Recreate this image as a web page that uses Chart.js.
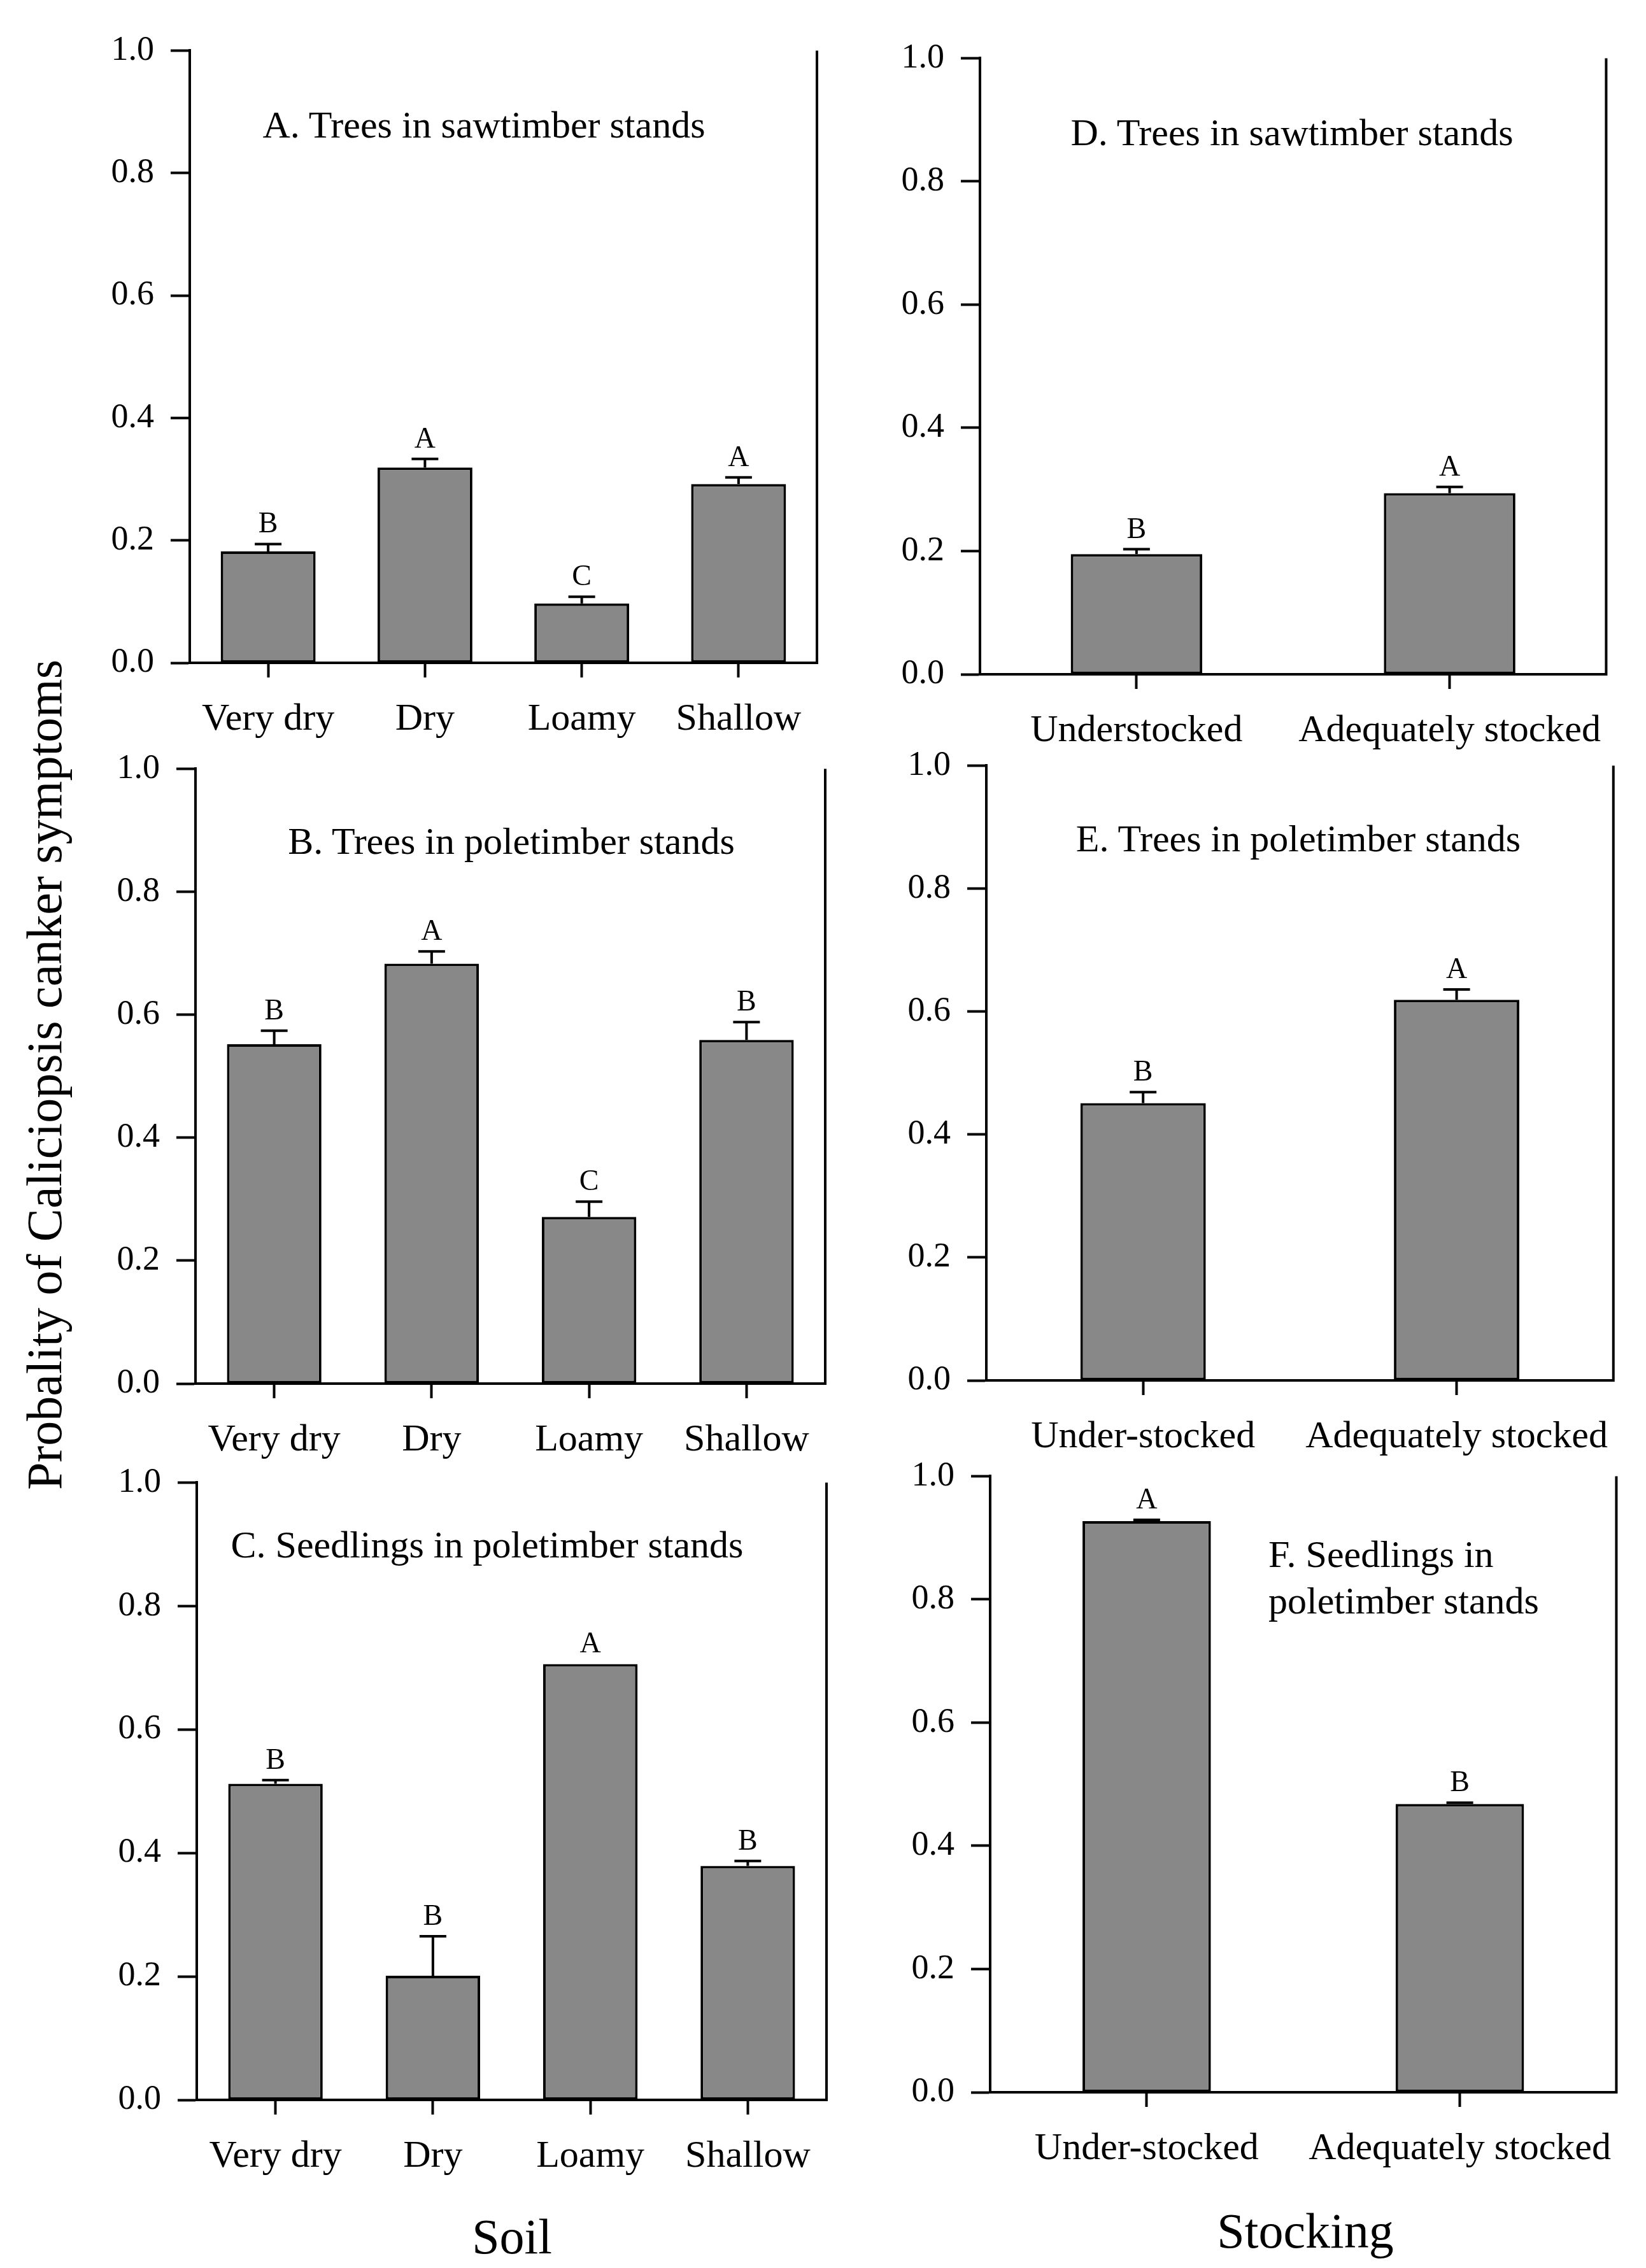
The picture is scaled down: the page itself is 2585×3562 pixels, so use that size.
<!DOCTYPE html>
<html>
<head>
<meta charset="utf-8">
<script src="https://cdn.jsdelivr.net/npm/chart.js@4.4.1/dist/chart.umd.min.js"></script>
<style>
  html, body { margin: 0; padding: 0; background: #fff; }
  body { width: 2585px; height: 3562px; position: relative; overflow: hidden; font-family: "Liberation Serif", serif; color: #000; }
  canvas { position: absolute; }
  .lbl { position: absolute; white-space: nowrap; transform: translate(-50%, -50%); line-height: 1; }
</style>
</head>
<body>

<div class="lbl" style="left:70px; top:1688px; font-size:78px; transform: translate(-50%, -50%) rotate(-90deg);">Probality of Caliciopsis canker symptoms</div>
<div class="lbl" style="left:804px; top:3513px; font-size:78px;">Soil</div>
<div class="lbl" style="left:2050px; top:3504px; font-size:78px;">Stocking</div>

<script>
// categories
const soilLabels = ['Very dry', 'Dry', 'Loamy', 'Shallow'];
const stockLabelsD = ['Understocked', 'Adequately stocked'];
const stockLabelsEF = ['Under-stocked', 'Adequately stocked'];
const yTicks = [0, 0.2, 0.4, 0.6, 0.8, 1.0];

// A. trees in sawtimber stands (soil)
const valuesA = [0.182, 0.319, 0.097, 0.292];
const errorsA = [0.012, 0.014, 0.011, 0.011];
const lettersA = ['B', 'A', 'C', 'A'];

// B. trees in poletimber stands (soil)
const valuesB = [0.552, 0.683, 0.271, 0.559];
const errorsB = [0.022, 0.020, 0.025, 0.029];
const lettersB = ['B', 'A', 'C', 'B'];

// C. seedlings in poletimber stands (soil)
const valuesC = [0.512, 0.201, 0.706, 0.379];
const errorsC = [0.006, 0.064, 0, 0.008];
const lettersC = ['B', 'B', 'A', 'B'];

// D. trees in sawtimber stands (stocking)
const valuesD = [0.195, 0.294];
const errorsD = [0.008, 0.010];
const lettersD = ['B', 'A'];

// E. trees in poletimber stands (stocking)
const valuesE = [0.451, 0.619];
const errorsE = [0.018, 0.017];
const lettersE = ['B', 'A'];

// F. seedlings in poletimber stands (stocking)
const valuesF = [0.927, 0.468];
const errorsF = [0.002, 0.002];
const lettersF = ['A', 'B'];

const FONT = '"Liberation Serif", serif';
const Y_AXIS_W = 260, X_AXIS_H = 180, PAD_TOP = 40, PAD_RIGHT = 20;

// error bars, significance letters and right frame line
const errorBarPlugin = {
    id: 'errorBars',
    afterDatasetsDraw(chart, args, opts) {
        const ctx = chart.ctx;
        const meta = chart.getDatasetMeta(0);
        const y = chart.scales.y;
        const vals = chart.data.datasets[0].data;
        ctx.save();
        ctx.strokeStyle = '#000';
        ctx.fillStyle = '#000';
        ctx.lineWidth = 4;
        ctx.font = '46px ' + FONT;
        ctx.textAlign = 'center';
        ctx.textBaseline = 'alphabetic';
        meta.data.forEach((bar, i) => {
            const v = vals[i], e = opts.errors[i];
            const yBar = y.getPixelForValue(v);
            const yTop = y.getPixelForValue(v + e);
            if (e > 0) {
                ctx.beginPath();
                ctx.moveTo(bar.x, yBar);
                ctx.lineTo(bar.x, yTop);
                ctx.moveTo(bar.x - 21, yTop);
                ctx.lineTo(bar.x + 21, yTop);
                ctx.stroke();
            }
            ctx.fillText(opts.letters[i], bar.x, yTop - 18);
        });
        // right frame line
        const a = chart.chartArea;
        ctx.beginPath();
        ctx.moveTo(a.right, a.top);
        ctx.lineTo(a.right, a.bottom + 2);
        ctx.stroke();
        ctx.restore();
    }
};

function makePanel(p) {
    const cv = document.createElement('canvas');
    const left = p.area.left - Y_AXIS_W;
    const top = p.area.top - PAD_TOP;
    const w = p.area.right - left + PAD_RIGHT;
    const h = p.area.bottom - top + X_AXIS_H;
    cv.width = w; cv.height = h;
    cv.style.left = left + 'px';
    cv.style.top = top + 'px';
    cv.style.width = w + 'px';
    cv.style.height = h + 'px';
    document.body.appendChild(cv);

    new Chart(cv, {
        type: 'bar',
        data: {
            labels: p.labels,
            datasets: [{
                data: p.values,
                backgroundColor: '#888888',
                borderColor: '#000',
                borderWidth: 4,
                borderSkipped: false,
                barPercentage: p.barFrac,
                categoryPercentage: 1.0
            }]
        },
        options: {
            responsive: false,
            devicePixelRatio: 1,
            animation: false,
            layout: { padding: { top: PAD_TOP, right: PAD_RIGHT, left: 0, bottom: 0 } },
            plugins: {
                legend: { display: false },
                tooltip: { enabled: false },
                errorBars: { errors: p.errors, letters: p.letters }
            },
            scales: {
                x: {
                    grid: { display: true, drawOnChartArea: false, drawTicks: true, offset: false,
                            tickLength: 23, tickWidth: 4, color: '#000' },
                    border: { display: true, color: '#000', width: 4 },
                    ticks: { color: '#000', font: { family: FONT, size: 60 }, padding: 30, maxRotation: 0, autoSkip: false },
                    afterFit(s) { s.height = X_AXIS_H; }
                },
                y: {
                    min: 0, max: 1,
                    afterBuildTicks(s) { s.ticks = yTicks.map(v => ({ value: v })); },
                    grid: { display: true, drawOnChartArea: false, drawTicks: true,
                            tickLength: 30, tickWidth: 4, color: '#000' },
                    border: { display: true, color: '#000', width: 4 },
                    ticks: { color: '#000', font: { family: FONT, size: 54 }, padding: 26,
                             callback: v => Number(v).toFixed(1) },
                    afterFit(s) { s.width = Y_AXIS_W; }
                }
            }
        },
        plugins: [errorBarPlugin]
    });

    p.titles.forEach(t => {
        const d = document.createElement('div');
        d.className = 'lbl';
        d.textContent = t.text;
        d.style.left = t.x + 'px';
        d.style.top = t.y + 'px';
        d.style.fontSize = '60px';
        if (t.alignLeft) d.style.transform = 'translate(0, -50%)';
        document.body.appendChild(d);
    });
}

const panels = [
    { area: { left: 298, top: 61, right: 1283, bottom: 1041 }, labels: soilLabels, values: valuesA, errors: errorsA, letters: lettersA, barFrac: 0.605,
      titles: [{ text: 'A. Trees in sawtimber stands', x: 760, y: 196 }] },
    { area: { left: 307, top: 1189, right: 1296, bottom: 2173 }, labels: soilLabels, values: valuesB, errors: errorsB, letters: lettersB, barFrac: 0.6,
      titles: [{ text: 'B. Trees in poletimber stands', x: 803, y: 1321 }] },
    { area: { left: 309, top: 2310, right: 1298, bottom: 3298 }, labels: soilLabels, values: valuesC, errors: errorsC, letters: lettersC, barFrac: 0.6,
      titles: [{ text: 'C. Seedlings in poletimber stands', x: 765, y: 2426 }] },
    { area: { left: 1539, top: 73, right: 2529, bottom: 1059 }, labels: stockLabelsD, values: valuesD, errors: errorsD, letters: lettersD, barFrac: 0.42,
      titles: [{ text: 'D. Trees in sawtimber stands', x: 2029, y: 208 }] },
    { area: { left: 1549, top: 1184, right: 2540, bottom: 2168 }, labels: stockLabelsEF, values: valuesE, errors: errorsE, letters: lettersE, barFrac: 0.40,
      titles: [{ text: 'E. Trees in poletimber stands', x: 2039, y: 1317 }] },
    { area: { left: 1555, top: 2300, right: 2545, bottom: 3286 }, labels: stockLabelsEF, values: valuesF, errors: errorsF, letters: lettersF, barFrac: 0.41,
      titles: [{ text: 'F. Seedlings in', x: 1992, y: 2441, alignLeft: true },
               { text: 'poletimber stands', x: 1992, y: 2514, alignLeft: true }] }
];

panels.forEach(makePanel);
</script>
</body>
</html>
